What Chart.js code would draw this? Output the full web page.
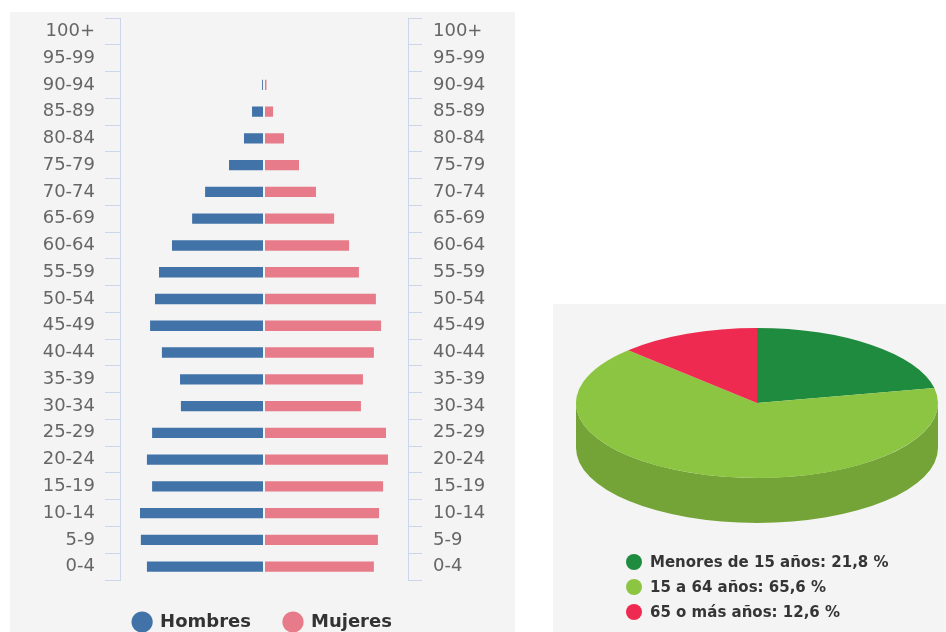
<!DOCTYPE html>
<html lang="es">
<head>
<meta charset="utf-8">
<title>Pirámide de población</title>
<script src="https://cdn.jsdelivr.net/npm/chart.js@4.4.1/dist/chart.umd.min.js"></script>
<style>
  body { margin: 0; width: 946px; height: 632px; background: #fff; position: relative; overflow: hidden; font-family: "DejaVu Sans", sans-serif; }
  #pyramid-box { position: absolute; left: 10px; top: 12px; width: 505px; height: 620px; background: #f4f4f4; overflow: hidden; }
  #pyramid-box canvas { position: absolute; left: 0; top: 0; }
  #pie-box { position: absolute; left: 553px; top: 304px; width: 393px; height: 328px; background: #f4f4f4; overflow: hidden; }
  #pie-box canvas { position: absolute; left: 0; top: 0; }
  #pie-legend { position: absolute; left: 73px; top: 246px; font: bold 15px "DejaVu Sans", sans-serif; color: #353535; }
  #pie-legend .item { height: 25px; line-height: 25px; white-space: nowrap; }
  #pie-legend .dot { display: inline-block; width: 16px; height: 16px; border-radius: 50%; vertical-align: -3px; margin-right: 8px; }
</style>
</head>
<body>
<div id="pyramid-box"><canvas id="pyramid" width="505" height="629"></canvas></div>
<div id="pie-box">
  <canvas id="pie" width="393" height="328"></canvas>
  <div id="pie-legend"></div>
</div>
<script>
// grupos de edad, de abajo hacia arriba
const grupos = ['0-4', '5-9', '10-14', '15-19', '20-24', '25-29', '30-34', '35-39', '40-44', '45-49',
  '50-54', '55-59', '60-64', '65-69', '70-74', '75-79', '80-84', '85-89', '90-94', '95-99', '100+'];
// % de la población
const hombres = [4.10, 4.31, 4.34, 3.92, 4.10, 3.92, 2.92, 2.95, 3.58, 3.99,
  3.82, 3.68, 3.23, 2.53, 2.08, 1.25, 0.73, 0.45, 0.10, 0.03, 0];
const mujeres = [3.85, 3.99, 4.03, 4.17, 4.34, 4.27, 3.40, 3.47, 3.85, 4.10,
  3.92, 3.33, 2.99, 2.47, 1.84, 1.25, 0.73, 0.35, 0.12, 0.03, 0];

const edades = ['Menores de 15 años', '15 a 64 años', '65 o más años'];
const porcentajes = [21.8, 65.6, 12.6];

Chart.defaults.font.family = '"DejaVu Sans", sans-serif';
Chart.defaults.animation = false;

const axisColor = '#ccd6eb';

function ageAxis(side) {
  return {
    type: 'category',
    labels: grupos,
    position: side,
    reverse: true,
    stacked: true,
    offset: true,
    grid: { offset: true, drawOnChartArea: false, color: axisColor, tickLength: side === 'left' ? 15 : 14 },
    border: { display: true, color: axisColor },
    ticks: { color: '#666', font: { size: 18 }, padding: side === 'left' ? 10 : 11, autoSkip: false },
    afterFit: s => {
      s.width = side === 'left' ? 110 : 107;
      s.paddingTop = 0;
      s.paddingBottom = 0;
    }
  };
}

const barStyle = { borderColor: '#f4f4f4', borderWidth: 1, borderSkipped: false, barPercentage: 0.46, categoryPercentage: 1 };

new Chart(document.getElementById('pyramid'), {
  type: 'bar',
  data: {
    labels: grupos,
    datasets: [
      { label: 'Hombres', data: hombres.map(v => -v), backgroundColor: '#4173a8', ...barStyle },
      { label: 'Mujeres', data: mujeres, backgroundColor: '#e87b89', ...barStyle }
    ]
  },
  options: {
    indexAxis: 'y',
    responsive: false,
    layout: { padding: { top: 6 } },
    scales: {
      x: { type: 'linear', min: -5, max: 5, stacked: true, display: false },
      y: ageAxis('left'),
      y2: ageAxis('right')
    },
    plugins: {
      tooltip: { enabled: false },
      legend: {
        position: 'bottom',
        labels: {
          usePointStyle: true,
          pointStyle: 'circle',
          boxWidth: 18,
          boxHeight: 15,
          padding: 33,
          color: '#333',
          font: { size: 18, weight: 'bold' },
          generateLabels: chart => Chart.defaults.plugins.legend.labels.generateLabels(chart)
            .map(l => ({ ...l, lineWidth: 0 }))
        }
      }
    }
  }
});

// pastel en perspectiva: aplasta la cara superior y pinta el canto
function shade(hex, f) {
  const n = parseInt(hex.slice(1), 16);
  const c = [n >> 16, (n >> 8) & 255, n & 255].map(v => Math.round(v * f));
  return `rgb(${c.join(',')})`;
}

const pie3d = {
  id: 'pie3d',
  beforeDatasetsDraw(chart, args, opts) {
    const arcs = chart.getDatasetMeta(0).data;
    if (!arcs.length) return;
    const { x, y, outerRadius: r } = arcs[0];
    const ctx = chart.ctx;
    ctx.save();
    ctx.translate(opts.cx, opts.cy);
    ctx.scale(opts.rx / r, opts.ry / r);
    ctx.translate(-x, -y);
    const d = opts.depth * r / opts.ry;
    arcs.forEach(arc => {
      [[-2 * Math.PI, -Math.PI], [0, Math.PI], [2 * Math.PI, 3 * Math.PI]].forEach(([lo, hi]) => {
        const a = Math.max(arc.startAngle, lo), b = Math.min(arc.endAngle, hi);
        if (b <= a) return;
        ctx.beginPath();
        ctx.arc(x, y, r, a, b);
        ctx.arc(x, y + d, r, b, a, true);
        ctx.closePath();
        ctx.fillStyle = shade(arc.options.backgroundColor, 0.83);
        ctx.fill();
      });
    });
  },
  afterDatasetsDraw(chart) {
    chart.ctx.restore();
  }
};

const pieColors = ['#1f8b3e', '#8cc542', '#ee2a50'];

new Chart(document.getElementById('pie'), {
  type: 'pie',
  data: {
    labels: edades,
    datasets: [{ data: porcentajes, backgroundColor: pieColors, borderWidth: 0 }]
  },
  options: {
    responsive: false,
    plugins: {
      legend: { display: false },
      tooltip: { enabled: false },
      pie3d: { cx: 204, cy: 99, rx: 181, ry: 75, depth: 45 }
    }
  },
  plugins: [pie3d]
});

document.getElementById('pie-legend').innerHTML = edades.map((e, i) =>
  `<div class="item"><span class="dot" style="background:${pieColors[i]}"></span>${e}: ${porcentajes[i].toFixed(1).replace('.', ',')} %</div>`
).join('');
</script>
</body>
</html>
